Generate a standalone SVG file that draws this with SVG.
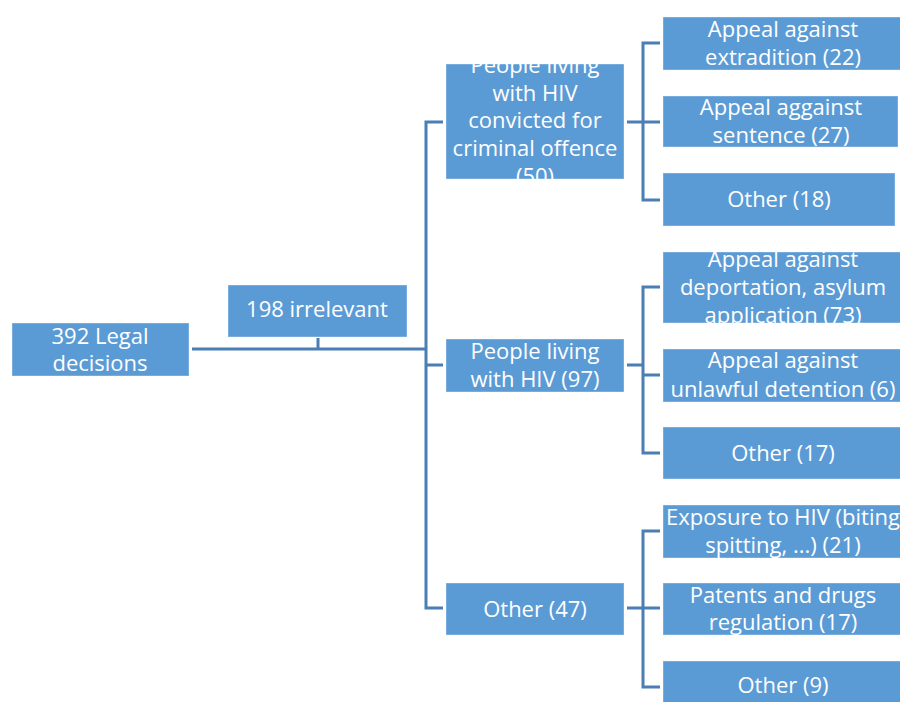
<svg xmlns="http://www.w3.org/2000/svg" width="900" height="702" viewBox="0 0 900 702">
<style>
.box{fill:#5B9BD5;stroke:#ffffff;stroke-opacity:0.35;stroke-width:1}
.t{font-family:"Open Sans","Liberation Sans",sans-serif;font-size:22px;fill:#ffffff;text-anchor:middle}
.c{fill:none;stroke:#4A7EB5;stroke-width:3}
</style>
<defs>
<clipPath id="cm1"><rect x="446" y="64" width="178" height="115"/></clipPath>
<clipPath id="cl21"><rect x="663" y="252" width="240" height="71"/></clipPath>
<clipPath id="cl31"><rect x="663" y="505" width="240" height="53"/></clipPath>
</defs>
<rect width="900" height="702" fill="#ffffff"/>
<g id="connectors">
<path class="c" d="M192,349 H426"/>
<path class="c" d="M318,338 V349"/>
<path class="c" d="M443,122 H426 V608 H443 M426,365 H443"/>
<path class="c" d="M627,122 H643 M660,43 H643 V200 H660 M643,122 H660"/>
<path class="c" d="M627,365 H643 M660,287 H643 V453 H660 M643,375 H660"/>
<path class="c" d="M627,608 H643 M660,531 H643 V687 H660 M643,608 H660"/>
</g>
<g id="root"><rect class="box" x="12" y="323" width="177" height="53"/>
<text class="t" x="100" y="344">392 Legal</text><text class="t" x="100" y="371">decisions</text></g>
<g id="irrelevant"><rect class="box" x="228" y="285" width="179" height="52"/>
<text class="t" x="317" y="317">198 irrelevant</text></g>
<g id="mid1"><rect class="box" x="446" y="64" width="178" height="115"/>
<g clip-path="url(#cm1)">
<text class="t" x="535" y="73">People living</text><text class="t" x="535" y="101">with HIV</text><text class="t" x="535" y="128">convicted for</text><text class="t" x="535" y="156">criminal offence</text><text class="t" x="535" y="184">(50)</text></g></g>
<g id="mid2"><rect class="box" x="446" y="339" width="178" height="53"/>
<text class="t" x="535" y="359">People living</text><text class="t" x="535" y="387">with HIV (97)</text></g>
<g id="mid3"><rect class="box" x="446" y="583" width="178" height="52"/>
<text class="t" x="535" y="617">Other (47)</text></g>
<g id="leaf11"><rect class="box" x="663" y="17" width="240" height="53"/>
<text class="t" x="783" y="37">Appeal against</text><text class="t" x="783" y="65">extradition (22)</text></g>
<g id="leaf12"><rect class="box" x="663" y="96" width="235" height="51"/>
<text class="t" x="781" y="115">Appeal aggainst</text><text class="t" x="781" y="143">sentence (27)</text></g>
<g id="leaf13"><rect class="box" x="663" y="173" width="232" height="53"/>
<text class="t" x="779" y="207">Other (18)</text></g>
<g id="leaf21"><rect class="box" x="663" y="252" width="240" height="71"/>
<g clip-path="url(#cl21)"><text class="t" x="783" y="267">Appeal against</text><text class="t" x="783" y="295">deportation, asylum</text><text class="t" x="783" y="323">application (73)</text></g></g>
<g id="leaf22"><rect class="box" x="663" y="349" width="240" height="53"/>
<text class="t" x="783" y="368">Appeal against</text><text class="t" x="783" y="397">unlawful detention (6)</text></g>
<g id="leaf23"><rect class="box" x="663" y="427" width="240" height="52"/>
<text class="t" x="783" y="461">Other (17)</text></g>
<g id="leaf31"><rect class="box" x="663" y="505" width="240" height="53"/>
<g clip-path="url(#cl31)"><text class="t" x="783" y="525">Exposure to HIV (biting</text><text class="t" x="783" y="553">spitting, ...) (21)</text></g></g>
<g id="leaf32"><rect class="box" x="663" y="583" width="240" height="52"/>
<text class="t" x="783" y="603">Patents and drugs</text><text class="t" x="783" y="630">regulation (17)</text></g>
<g id="leaf33"><rect class="box" x="663" y="661" width="240" height="53"/>
<text class="t" x="783" y="693">Other (9)</text></g>
</svg>
